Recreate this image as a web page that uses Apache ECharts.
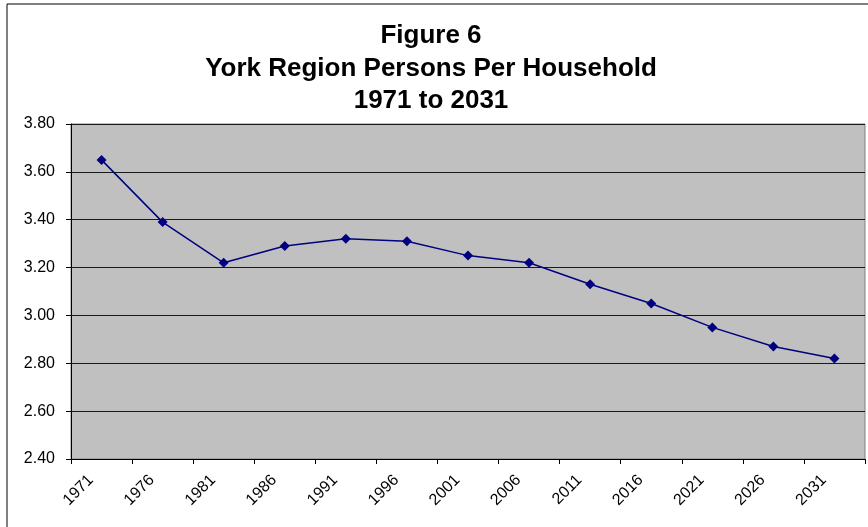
<!DOCTYPE html>
<html>
<head>
<meta charset="utf-8">
<script src="https://cdn.jsdelivr.net/npm/echarts@6/dist/echarts.min.js"></script>
<style>
  html, body { margin: 0; padding: 0; background: #fff; }
  #chart { width: 868px; height: 527px; }
</style>
</head>
<body>
<div id="chart"></div>
<script>
// years on the category axis
var years = ['1971', '1976', '1981', '1986', '1991', '1996', '2001', '2006', '2011', '2016', '2021', '2026', '2031'];
// persons per household
var personsPerHousehold = [3.65, 3.39, 3.22, 3.29, 3.32, 3.31, 3.25, 3.22, 3.13, 3.05, 2.95, 2.87, 2.82];
var titleLines = ['Figure 6', 'York Region Persons Per Household', '1971 to 2031'];

var myChart = echarts.init(document.getElementById('chart'));
var font = '"Liberation Sans", Arial, sans-serif';

myChart.setOption({
    animation: false,
    textStyle: { fontFamily: font },
    title: {
        text: titleLines.join('\n'),
        left: 426,
        textAlign: 'center',
        top: 15,
        textStyle: {
            fontFamily: font,
            fontWeight: 'bold',
            fontSize: 26,
            lineHeight: 32.5,
            color: '#000'
        }
    },
    grid: {
        left: 71,
        right: 3,
        top: 124,
        bottom: 68,
        show: true,
        backgroundColor: '#C0C0C0',
        borderColor: '#808080',
        borderWidth: 1
    },
    xAxis: {
        type: 'category',
        data: years,
        boundaryGap: true,
        axisLine: { lineStyle: { color: '#000', width: 1 } },
        axisTick: { show: true, alignWithLabel: false, length: 5, lineStyle: { color: '#000' } },
        axisLabel: {
            rotate: 45,
            interval: 0,
            margin: 8,
            padding: [0, 15, 0, 0],
            fontSize: 16,
            color: '#000',
            fontFamily: font
        }
    },
    yAxis: {
        type: 'value',
        min: 2.4,
        max: 3.8,
        interval: 0.2,
        axisLine: { show: true, lineStyle: { color: '#000', width: 1 } },
        axisTick: { show: true, length: 5, lineStyle: { color: '#000' } },
        splitLine: { show: true, lineStyle: { color: '#1a1a1a', width: 1 } },
        axisLabel: {
            fontSize: 16,
            color: '#000',
            margin: 16,
            fontFamily: font,
            formatter: function (v) { return v.toFixed(2); }
        }
    },
    graphic: [{
        type: 'rect',
        shape: { x: 7, y: 4, width: 900, height: 600 },
        style: { fill: null, stroke: '#000', lineWidth: 1 },
        silent: true,
        z: 100
    }],
    series: [{
        name: 'Persons Per Household',
        type: 'line',
        data: personsPerHousehold,
        symbol: 'diamond',
        symbolSize: 10,
        itemStyle: { color: '#000080' },
        lineStyle: { color: '#000080', width: 1.5 }
    }]
});
</script>
</body>
</html>
